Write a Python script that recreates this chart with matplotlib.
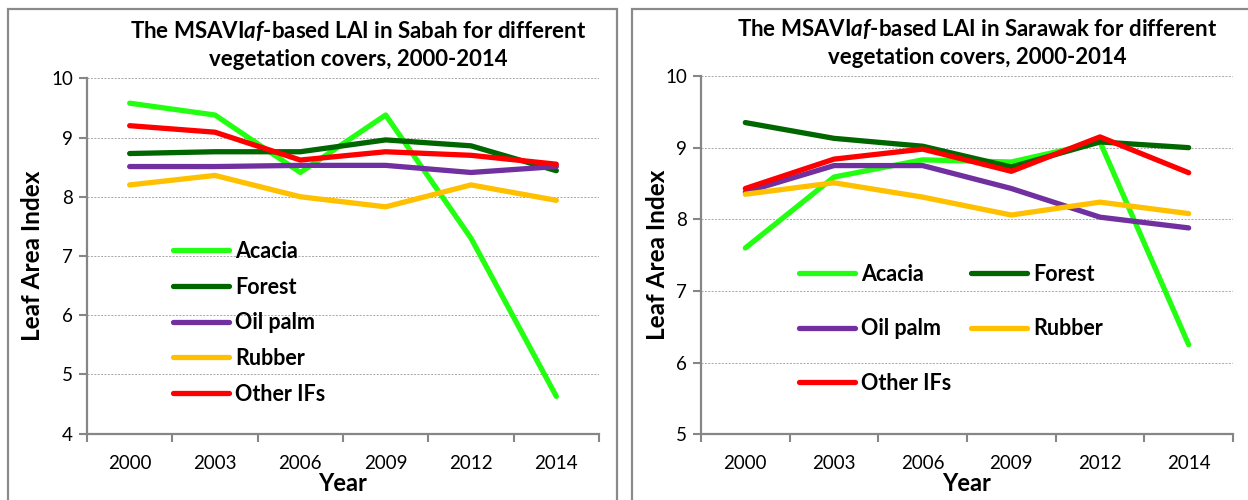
import matplotlib
matplotlib.use("Agg")
import matplotlib.pyplot as plt
from matplotlib.patches import Rectangle
import numpy as np

plt.rcParams['font.family'] = ['Lato', 'DejaVu Sans']
plt.rcParams['mathtext.fontset'] = 'custom'
plt.rcParams['mathtext.rm'] = 'Lato:bold'
plt.rcParams['mathtext.it'] = 'Lato:bold:italic'
plt.rcParams['mathtext.bf'] = 'Lato:bold'

years = ['2000', '2003', '2006', '2009', '2012', '2014']
covers = ['Acacia', 'Forest', 'Oil palm', 'Rubber', 'Other IFs']
colors = ['#22FF11', '#006600', '#7030A0', '#FFC000', '#FF0000']

# Sabah LAI per vegetation cover
sabah_acacia = [9.58, 9.38, 8.41, 9.38, 7.30, 4.63]
sabah_forest = [8.73, 8.76, 8.76, 8.96, 8.86, 8.44]
sabah_oilpalm = [8.51, 8.51, 8.53, 8.53, 8.41, 8.51]
sabah_rubber = [8.20, 8.36, 8.00, 7.83, 8.20, 7.94]
sabah_other = [9.20, 9.09, 8.62, 8.76, 8.70, 8.55]

# Sarawak LAI per vegetation cover
sarawak_acacia = [7.60, 8.59, 8.83, 8.80, 9.08, 6.25]
sarawak_forest = [9.35, 9.13, 9.02, 8.73, 9.08, 9.00]
sarawak_oilpalm = [8.38, 8.75, 8.75, 8.43, 8.03, 7.88]
sarawak_rubber = [8.35, 8.51, 8.31, 8.06, 8.24, 8.08]
sarawak_other = [8.43, 8.84, 8.98, 8.67, 9.15, 8.65]

sabah = [sabah_acacia, sabah_forest, sabah_oilpalm, sabah_rubber, sabah_other]
sarawak = [sarawak_acacia, sarawak_forest, sarawak_oilpalm, sarawak_rubber, sarawak_other]

W, H = 1248, 500
fig = plt.figure(figsize=(W / 100, H / 100), dpi=100)

# panel frames
for x0, x1 in [(7.5, 616.5), (632, 1260)]:
    fig.patches.append(Rectangle((x0 / W, -0.05), (x1 - x0) / W, 1.05 - 9.5 / H,
                                 transform=fig.transFigure, fill=False,
                                 edgecolor='#8a8a8a', linewidth=1.6))

axis_col = '#868686'


def draw_panel(rect, series, ylim, region, legend_xy, ncol, labelspacing,
               title_x, ylabel_pad):
    ax = fig.add_axes(rect)
    x = np.arange(len(years))
    lines = []
    for vals, name, c in zip(series, covers, colors):
        ln, = ax.plot(x, vals, color=c, linewidth=3.8, solid_capstyle='round',
                      solid_joinstyle='round', label=name)
        lines.append(ln)
    ax.set_xlim(-0.5, len(years) - 0.5)
    ax.set_ylim(*ylim)
    ax.set_yticks(np.arange(ylim[0], ylim[1] + 1))
    ax.set_xticks(np.arange(-0.5, len(years)), labels=[''] * (len(years) + 1))
    ax.set_xticks(x, labels=years, minor=True)
    ax.tick_params(axis='x', which='major', direction='out', length=6,
                   width=1.5, color=axis_col)
    ax.tick_params(axis='x', which='minor', length=0, pad=15, labelsize=13.5)
    ax.tick_params(axis='y', direction='out', length=6, width=1.5,
                   color=axis_col, labelsize=13.5, pad=4)
    for s in ['top', 'right']:
        ax.spines[s].set_visible(False)
    for s in ['left', 'bottom']:
        ax.spines[s].set_color(axis_col)
        ax.spines[s].set_linewidth(1.6)
    ax.grid(axis='y', color='#a6a6a6', linestyle=(0, (2, 1.5)), linewidth=0.7)
    ax.set_axisbelow(True)

    ax.set_xlabel('Year', fontsize=17, fontweight='bold', labelpad=0)
    ax.set_ylabel('Leaf Area Index', fontsize=17.5, fontweight='bold',
                  labelpad=ylabel_pad)
    ax.set_title('The MSAVI$\\mathit{af}$-based LAI in ' + region +
                 ' for different\nvegetation covers, 2000-2014',
                 fontsize=16, fontweight='bold', linespacing=1.32, pad=9,
                 x=title_x)

    if ncol == 1:
        handles = lines
    else:
        # row-wise order across two columns
        handles = [lines[0], lines[2], lines[4], lines[1], lines[3]]
    ax.legend(handles=handles, labels=[h.get_label() for h in handles],
              loc='upper left', bbox_to_anchor=(legend_xy[0] / W, 1 - legend_xy[1] / H),
              bbox_transform=fig.transFigure, frameon=False, ncol=ncol,
              prop={'weight': 'bold', 'size': 15.5}, handlelength=2.6,
              handletextpad=0.3, labelspacing=labelspacing, columnspacing=0.9,
              borderpad=0, borderaxespad=0)
    return ax


draw_panel([87 / W, 1 - 433.7 / H, 512 / W, 355.4 / H], sabah, (4, 10), 'Sabah',
           (173, 241), 1, 0.68, 0.53, 5)
draw_panel([701 / W, 1 - 434.3 / H, 532 / W, 358.3 / H], sarawak, (5, 10), 'Sarawak',
           (799, 264), 2, 1.55, 0.52, -3)

fig.savefig('out.png', dpi=100)
